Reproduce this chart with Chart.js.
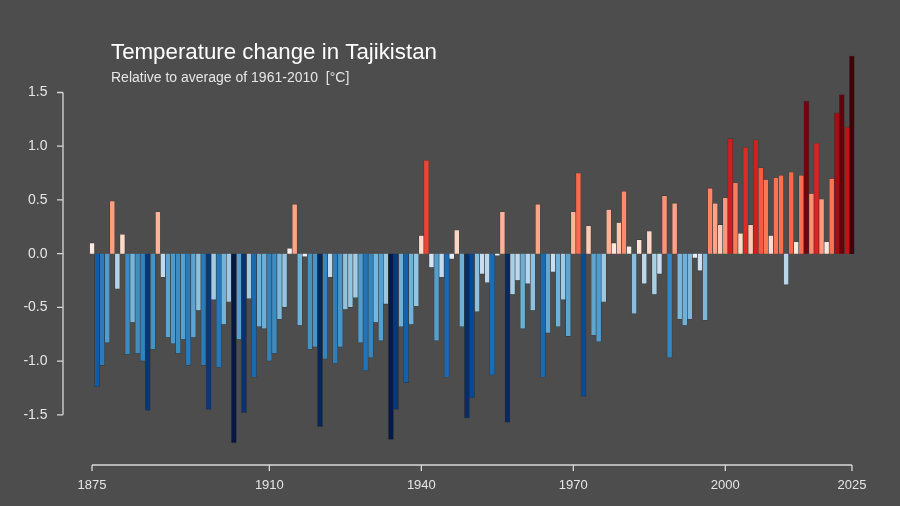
<!DOCTYPE html>
<html>
<head>
<meta charset="utf-8">
<script src="https://cdn.jsdelivr.net/npm/chart.js@4"></script>
<style>
  html, body { margin: 0; padding: 0; background: #4d4d4d; }
  #wrap { width: 900px; height: 506px; }
</style>
</head>
<body>
<div id="wrap"><canvas id="stripesChart" width="900" height="506"></canvas></div>
<script>
// years 1875..2025
const years = [];
for (let y = 1875; y <= 2025; y++) years.push(y);

// anomalies, °C vs 1961-2010
const anomalies = [
  0.10, -1.24, -1.04, -0.83, 0.49, -0.33, 0.18, -0.94, -0.64, -0.93,
  -1.00, -1.46, -0.89, 0.39, -0.22, -0.78, -0.84, -0.93, -0.80, -1.04,
  -0.78, -0.53, -1.04, -1.45, -0.43, -1.06, -0.66, -0.45, -1.76, -0.80,
  -1.48, -0.42, -1.15, -0.68, -0.70, -1.00, -0.93, -0.61, -0.50, 0.05,
  0.46, -0.67, -0.03, -0.89, -0.87, -1.61, -0.98, -0.22, -1.02, -0.87,
  -0.52, -0.50, -0.41, -0.83, -1.09, -0.97, -0.64, -0.81, -0.47, -1.73,
  -1.45, -0.68, -1.20, -0.66, -0.49, 0.17, 0.87, -0.13, -0.81, -0.22,
  -1.15, -0.05, 0.22, -0.68, -1.53, -1.34, -0.54, -0.19, -0.27, -1.13,
  -0.02, 0.39, -1.57, -0.38, -0.25, -0.70, -0.28, -0.53, 0.46, -1.15,
  -0.74, -0.17, -0.68, -0.43, -0.77, 0.39, 0.75, -1.33, 0.26, -0.76,
  -0.82, -0.45, 0.41, 0.10, 0.29, 0.58, 0.07, -0.56, 0.13, -0.28,
  0.21, -0.38, -0.19, 0.54, -0.97, 0.47, -0.61, -0.67, -0.61, -0.04,
  -0.16, -0.62, 0.61, 0.47, 0.27, 0.52, 1.07, 0.66, 0.19, 0.99,
  0.27, 1.06, 0.80, 0.69, 0.17, 0.71, 0.73, -0.29, 0.76, 0.11,
  0.73, 1.42, 0.56, 1.03, 0.51, 0.11, 0.70, 1.31, 1.48, 1.18,
  1.84
];

const xTickLabels = [1875, 1910, 1940, 1970, 2000, 2025];
const yTickValues = [-1.5, -1.0, -0.5, 0.0, 0.5, 1.0, 1.5];

// RdBu-like colour ramp
const colorStops = [
  [-1.8, [3, 20, 60]], [-1.5, [8, 48, 107]], [-1.3, [8, 81, 156]], [-1.1, [33, 113, 181]],
  [-0.9, [66, 146, 198]], [-0.7, [107, 174, 214]], [-0.45, [158, 202, 225]], [-0.2, [198, 219, 239]],
  [0, [240, 246, 252]], [0.15, [254, 224, 210]], [0.35, [252, 187, 161]], [0.55, [252, 146, 114]],
  [0.75, [251, 106, 74]], [0.9, [239, 59, 44]], [1.1, [203, 24, 29]], [1.3, [165, 15, 21]],
  [1.45, [103, 0, 13]], [1.85, [64, 0, 5]]
];
function colorFor(v) {
  if (v <= colorStops[0][0]) return 'rgb(' + colorStops[0][1].join(',') + ')';
  for (let i = 1; i < colorStops.length; i++) {
    const [v1, c1] = colorStops[i];
    const [v0, c0] = colorStops[i - 1];
    if (v <= v1) {
      const t = (v - v0) / (v1 - v0);
      const c = c0.map((a, k) => Math.round(a + (c1[k] - a) * t));
      return 'rgb(' + c.join(',') + ')';
    }
  }
  return 'rgb(' + colorStops[colorStops.length - 1][1].join(',') + ')';
}

const axisColor = '#d9d9d9';
const font = '"Liberation Sans", Arial, sans-serif';

// R-style axes plus titles
const decorPlugin = {
  id: 'decor',
  beforeDraw(chart) {
    const ctx = chart.ctx;
    ctx.save();
    ctx.fillStyle = '#4d4d4d';
    ctx.fillRect(0, 0, chart.width, chart.height);
    ctx.restore();
  },
  afterDraw(chart) {
    const ctx = chart.ctx;
    const xs = chart.scales.x, ys = chart.scales.y;
    ctx.save();
    ctx.strokeStyle = axisColor;
    ctx.lineWidth = 1.3;
    // y axis
    const ax = 63;
    ctx.beginPath();
    ctx.moveTo(ax, ys.getPixelForValue(1.5));
    ctx.lineTo(ax, ys.getPixelForValue(-1.5));
    yTickValues.forEach(v => {
      const p = ys.getPixelForValue(v);
      ctx.moveTo(ax - 6, p);
      ctx.lineTo(ax, p);
    });
    ctx.stroke();
    // x axis
    const ay = 465;
    ctx.beginPath();
    ctx.moveTo(xs.getPixelForValue(0), ay);
    ctx.lineTo(xs.getPixelForValue(years.length - 1), ay);
    xTickLabels.forEach(yr => {
      const p = xs.getPixelForValue(years.indexOf(yr));
      ctx.moveTo(p, ay);
      ctx.lineTo(p, ay + 6);
    });
    ctx.stroke();
    ctx.fillStyle = '#e6e6e6';
    ctx.font = '13px ' + font;
    ctx.textAlign = 'center';
    ctx.textBaseline = 'middle';
    xTickLabels.forEach(yr => {
      ctx.fillText(String(yr), xs.getPixelForValue(years.indexOf(yr)), 485);
    });
    // titles
    ctx.textAlign = 'left';
    ctx.textBaseline = 'alphabetic';
    ctx.fillStyle = '#ffffff';
    ctx.font = '22.3px ' + font;
    ctx.fillText('Temperature change in Tajikistan', 111, 59);
    ctx.fillStyle = '#e6e6e6';
    ctx.font = '14px ' + font;
    ctx.fillText('Relative to average of 1961-2010  [°C]', 111, 82);
    ctx.restore();
  }
};

new Chart(document.getElementById('stripesChart'), {
  type: 'bar',
  data: {
    labels: years,
    datasets: [{
      data: anomalies,
      backgroundColor: anomalies.map(colorFor),
      borderColor: 'rgba(45,45,45,0.7)',
      borderWidth: 0.6,
      barPercentage: 1,
      categoryPercentage: 1
    }]
  },
  options: {
    responsive: false,
    animation: false,
    layout: { padding: { top: 47, right: 45.5, left: 0, bottom: 36 } },
    plugins: { legend: { display: false }, tooltip: { enabled: false } },
    scales: {
      x: { display: false },
      y: {
        min: -1.88, max: 1.892,
        grid: { display: false, drawTicks: false },
        border: { display: false },
        afterFit(s) { s.width = 89.5; },
        afterBuildTicks(s) { s.ticks = yTickValues.map(v => ({ value: v })); },
        ticks: {
          padding: 42,
          color: '#e6e6e6', font: { family: font, size: 14 },
          callback(v) { return Number(v).toFixed(1); }
        }
      }
    }
  },
  plugins: [decorPlugin]
});
</script>
</body>
</html>
